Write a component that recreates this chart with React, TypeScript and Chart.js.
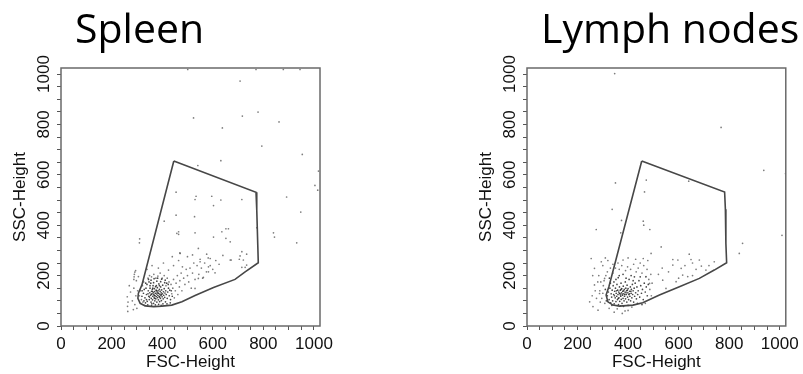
import React, { useEffect, useRef } from 'react';
import { Chart, registerables } from 'chart.js';

Chart.register(...registerables);

// ---------- data ----------
const axisMin = 0;
const axisMax = 1024;
const tickStep = 50;
const majorTicks = [0, 200, 400, 600, 800, 1000];
const xTitle = 'FSC-Height';
const yTitle = 'SSC-Height';
const panelTitles = ['Spleen', 'Lymph nodes'];

// gate polygons [FSC, SSC]
const spleenGate = [
  [446, 655], [771, 531], [774, 460], [778, 321], [780, 251], [728, 215], [688, 185],
  [603, 153], [530, 121], [478, 96], [438, 83], [399, 79], [366, 77], [333, 80],
  [313, 90], [304, 110], [306, 130], [320, 163], [446, 655],
];
const lymphGate = [
  [454, 655], [782, 532], [785, 463], [787, 328], [790, 251], [741, 222], [682, 189],
  [603, 156], [524, 123], [458, 92], [419, 83], [366, 79], [340, 83], [320, 96],
  [313, 123], [324, 156], [454, 655],
];

// events [FSC, SSC]
const spleenCore = [
  [332,112],[338,125],[341,98],[345,140],[347,118],[349,105],[351,132],[352,150],[354,122],[356,95],
  [357,110],[358,138],[360,128],[361,145],[362,104],[363,118],[364,160],[365,132],[366,90],[367,125],
  [368,112],[369,148],[370,137],[371,100],[372,120],[373,130],[374,156],[375,108],[376,142],[377,117],
  [378,127],[379,95],[380,135],[381,152],[382,113],[383,122],[384,140],[385,104],[386,130],[387,167],
  [388,118],[389,145],[390,97],[391,126],[392,138],[393,110],[394,155],[395,121],[396,132],[397,101],
  [398,143],[400,116],[401,128],[402,162],[404,108],[405,136],[406,122],[408,148],[410,114],[411,131],
  [413,96],[414,140],[416,125],[418,170],[420,110],[422,135],[425,150],[428,120],[430,142],[433,105],
  [336,150],[340,165],[343,84],[348,175],[355,170],[359,88],[366,172],[373,84],[379,178],[386,86],
  [394,176],[403,88],[412,182],[326,130],[329,145],[334,92],[352,160],[363,150],[377,160],[389,160],
  [344,128],[350,115],[357,126],[362,137],[369,121],[371,110],[378,140],[383,131],[390,115],[397,125],
  [320,118],[328,100],[335,170],[346,185],[356,182],[368,188],[382,190],[398,186],[410,172],[424,165],
  [436,140],[440,118],[432,92],[419,88],[396,82],[358,80],[338,105],[321,140],
];
const spleenHalo = [
  [310,120],[315,140],[318,105],[322,160],[324,95],[327,175],[330,82],[344,190],[350,200],[358,195],
  [367,205],[375,190],[383,198],[392,210],[400,190],[408,200],[415,160],[420,190],[427,175],[435,165],
  [438,128],[442,150],[445,185],[448,112],[452,140],[455,170],[460,200],[462,125],[468,155],[470,180],
  [475,210],[478,140],[485,190],[490,165],[495,225],[500,200],[505,175],[510,230],[515,150],[520,210],
  [525,250],[530,185],[538,240],[545,205],[550,265],[555,230],[560,190],[568,250],[575,215],[582,270],
  [590,240],[600,225],[612,260],[625,245],[640,280],[340,225],[360,240],[385,230],[405,250],[425,222],
  [445,240],[465,260],[480,235],[500,275],[520,282],[470,290],[440,275],
];
const spleenOutside = [
  [262,116],[265,95],[263,78],[264,58],[275,135],[282,100],[288,150],[292,85],[296,120],[300,70],
  [303,140],[286,65],[270,160],[298,180],[306,196],[310,330],[311,346],
  [288,185],[289,195],[290,205],[292,214],[295,220],
];
const spleenSparse = [
  [501,1018],[771,1018],[879,1018],[945,1018],[708,972],[524,826],[717,833],[779,849],[862,810],[638,786],
  [794,714],[954,681],[632,656],[541,637],[1018,615],[1015,539],[892,512],[948,452],[455,531],[534,515],
  [530,502],[596,515],[632,500],[715,502],[603,478],[455,440],[528,434],[774,390],[408,416],[465,374],
  [465,364],[530,370],[636,374],[652,386],[662,386],[603,353],[652,348],[840,370],[844,353],[669,334],
  [932,330],[576,285],[550,255],[590,268],[715,295],[708,278],[673,262],[721,262],[734,285],[583,215],
  [563,193],[543,189],[609,211],[715,233],[728,233],[530,149],[458,368],[543,308],[669,262],[705,265],
  [471,288],[583,235],[734,242],[1004,558],
];

const lymphCore = [
  [318,120],[322,135],[325,105],[328,150],[331,92],[333,128],[335,115],[337,142],[339,100],[341,160],
  [343,125],[345,88],[347,138],[349,112],[350,150],[352,97],[353,130],[355,118],[356,165],[358,105],
  [359,142],[360,125],[362,85],[363,135],[364,112],[366,155],[367,98],[368,128],[369,142],[371,118],
  [372,170],[373,106],[374,132],[375,148],[376,90],[378,122],[379,138],[380,110],[381,158],[383,128],
  [384,100],[385,145],[386,118],[388,135],[389,175],[390,108],[391,150],[393,125],[394,140],[395,95],
  [396,162],[398,115],[399,132],[400,148],[402,105],[403,125],[404,185],[406,138],[407,118],[409,155],
  [410,100],[412,130],[413,145],[415,112],[417,165],[418,125],[420,140],[422,95],[424,150],[426,118],
  [428,170],[430,132],[433,108],[435,155],[438,125],[440,140],[443,180],[446,115],[450,160],[453,130],
  [457,145],[460,105],[464,170],[468,135],[472,155],[476,120],[480,165],[344,175],[352,185],[361,192],
  [370,80],[382,78],[392,190],[400,82],[412,200],[420,180],[336,82],[330,170],[314,100],[310,145],
  [326,190],[365,200],[380,205],[425,195],[437,90],[448,195],[455,85],[346,120],[354,140],[361,110],
  [366,130],[372,145],[377,127],[382,140],[387,125],[392,132],[397,142],[405,128],[411,138],[370,123],
];
const lymphHalo = [
  [300,130],[302,160],[296,110],[305,180],[308,90],[312,200],[318,215],[325,70],[340,210],[350,230],
  [357,68],[365,225],[375,240],[388,60],[390,220],[398,235],[410,225],[422,245],[432,215],[440,230],
  [448,250],[455,210],[462,240],[470,195],[475,225],[482,185],[486,145],[490,205],[478,260],[460,268],
  [430,265],[400,270],[380,262],[360,250],[340,245],[330,230],[495,170],[492,120],[468,90],[345,55],
  [377,50],[400,62],[415,75],[288,140],[292,175],[284,200],[290,95],
];
const lymphOutside = [
  [254,268],[267,229],[294,255],[267,163],[248,96],[261,77],[281,63],[307,189],[287,129],[260,200],
  [275,110],[280,175],[270,140],[258,120],[300,240],[310,270],[320,260],
];
const lymphSparse = [
  [347,1002],[768,788],[937,618],[1023,605],[350,568],[472,579],[640,575],[465,532],[337,463],[460,416],
  [462,400],[486,383],[274,383],[374,419],[371,370],[1009,360],[531,314],[491,288],[642,285],[649,264],
  [682,262],[577,264],[597,262],[577,242],[610,229],[616,202],[636,196],[669,225],[708,222],[741,255],
  [537,182],[550,149],[590,176],[471,196],[485,169],[853,328],[840,288],[535,230],[520,205],[560,215],
  [600,190],[625,240],[655,250],[690,238],[720,240],[655,200],
];

// ---------- chart ----------
const tickFont = { family: "'Liberation Sans', Arial, Helvetica, sans-serif", size: 17 };

const framePlugin = {
  id: 'frame',
  afterDraw(chart: any) {
    const { ctx, chartArea: a } = chart;
    ctx.save();
    ctx.strokeStyle = '#6a6a6a';
    ctx.lineWidth = 1.5;
    ctx.strokeRect(a.left, a.top, a.right - a.left, a.bottom - a.top);
    ctx.restore();
  },
};

const toPts = (arr: number[][]) => arr.map(([x, y]) => ({ x, y }));

function buildConfig(core: number[][], halo: number[][], outside: number[][], sparse: number[][], gate: number[][], pad: any) {
  const tickLabel = (v: any) => (majorTicks.includes(Number(v)) ? String(v) : '');
  return {
    type: 'scatter',
    data: {
      datasets: [
        {
          data: toPts(gate), showLine: true, borderColor: '#474747', borderWidth: 1.6,
          pointRadius: 0, fill: false, tension: 0, order: 0,
        },
        {
          data: toPts(core), pointRadius: 0.85, backgroundColor: 'rgba(25,25,25,0.8)', borderWidth: 0, order: 1,
        },
        {
          data: toPts([...halo, ...outside, ...sparse]), pointRadius: 0.85, backgroundColor: 'rgba(70,70,70,0.7)', borderWidth: 0, order: 2,
        },
      ],
    },
    options: {
      animation: false,
      responsive: false,
      devicePixelRatio: 1,
      layout: { padding: pad },
      plugins: { legend: { display: false }, tooltip: { enabled: false }, title: { display: false } },
      scales: {
        x: {
          type: 'linear', min: axisMin, max: axisMax,
          afterFit: (s: any) => { s.height = 48; },
          border: { display: false },
          grid: { drawOnChartArea: false, drawTicks: true, tickLength: 4, tickColor: '#555', tickWidth: 1 },
          ticks: {
            stepSize: tickStep, includeBounds: false, autoSkip: false, maxRotation: 0, minRotation: 0,
            padding: 4, color: '#111', font: tickFont, callback: tickLabel,
          },
          title: { display: true, text: xTitle, color: '#111', font: tickFont, padding: { top: 0, bottom: 1 } },
        },
        y: {
          type: 'linear', min: axisMin, max: axisMax,
          afterFit: (s: any) => { s.width = 61; },
          border: { display: false },
          grid: { drawOnChartArea: false, drawTicks: true, tickLength: 4, tickColor: '#555', tickWidth: 1 },
          ticks: {
            stepSize: tickStep, includeBounds: false, autoSkip: false, minRotation: 90, maxRotation: 90,
            crossAlign: 'center', padding: -6, color: '#111', font: tickFont, callback: tickLabel,
          },
          title: { display: true, text: yTitle, color: '#111', font: tickFont, padding: { top: 10, bottom: 0 } },
        },
      },
    },
    plugins: [framePlugin],
  };
}

function Panel(props: any) {
  const ref = useRef<HTMLCanvasElement>(null);
  useEffect(() => {
    if (!ref.current) return;
    const chart = new Chart(ref.current, buildConfig(props.core, props.halo, props.outside, props.sparse, props.gate, props.pad) as any);
    return () => chart.destroy();
  }, []);
  return (
    <canvas
      ref={ref}
      width={props.width}
      height={374}
      style={{ position: 'absolute', left: props.left, top: 0, width: props.width, height: 374 }}
    />
  );
}

const titleStyle: any = {
  position: 'absolute', top: 7, fontFamily: "'Open Sans', sans-serif", fontSize: 41,
  lineHeight: '41px', color: '#000', whiteSpace: 'nowrap', margin: 0,
};

export default function App() {
  return (
    <div style={{ position: 'absolute', left: 0, top: 0, width: 803, height: 374, background: '#fff', overflow: 'hidden' }}>
      <Panel left={0} width={400} core={spleenCore} halo={spleenHalo} outside={spleenOutside} sparse={spleenSparse}
        gate={spleenGate} pad={{ left: 0, right: 80, top: 68, bottom: 0 }} />
      <Panel left={400} width={403} core={lymphCore} halo={lymphHalo} outside={lymphOutside} sparse={lymphSparse}
        gate={lymphGate} pad={{ left: 66, right: 16, top: 68, bottom: 0 }} />
      <div style={{ ...titleStyle, left: 75 }}>{panelTitles[0]}</div>
      <div style={{ ...titleStyle, left: 541 }}>{panelTitles[1]}</div>
    </div>
  );
}
